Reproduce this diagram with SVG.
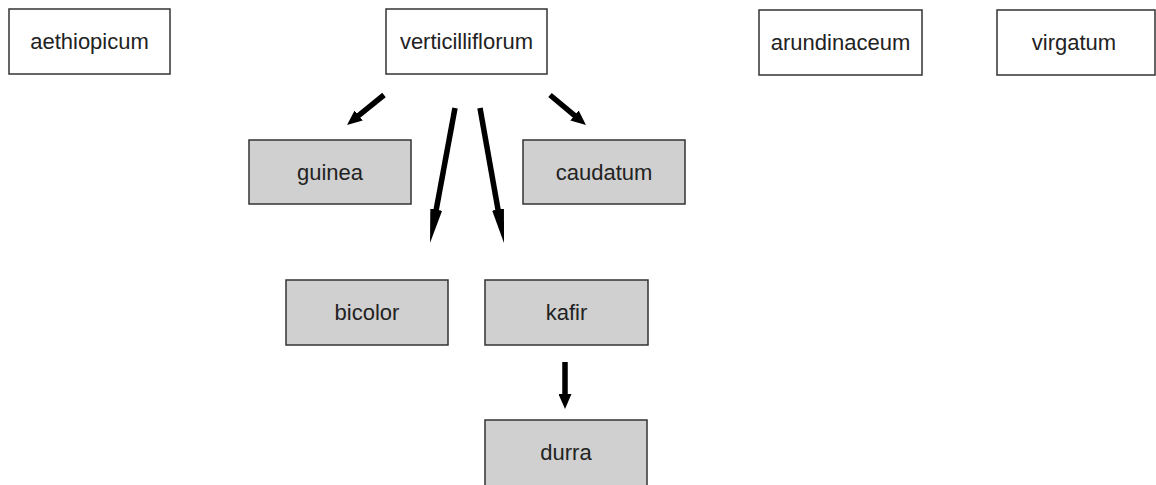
<svg xmlns="http://www.w3.org/2000/svg" width="1156" height="485" viewBox="0 0 1156 485">
<style>
.box{fill:#ffffff;stroke:#333333;stroke-width:1.5}
.gbox{fill:#d0d0d0;stroke:#333333;stroke-width:1.5}
.lbl{font-family:"Liberation Sans",Arial,sans-serif;font-size:22px;fill:#222222;text-anchor:middle}
.arr{stroke:#000000;stroke-width:5.5;fill:none}
</style>
<defs>
<marker id="hl" markerUnits="userSpaceOnUse" markerWidth="34" markerHeight="12" refX="10" refY="6" orient="auto"><path d="M0,0 L34,6 L0,12 z" fill="#000"/></marker>
<marker id="hs" markerUnits="userSpaceOnUse" markerWidth="15" markerHeight="13" refX="5" refY="6.5" orient="auto"><path d="M0,0 L15,6.5 L0,13 z" fill="#000"/></marker>
</defs>
<g id="aethiopicum"><rect class="box" x="9" y="9" width="161" height="65"/><text class="lbl" x="89.5" y="48.5">aethiopicum</text></g>
<g id="verticilliflorum"><rect class="box" x="386" y="9" width="161" height="65"/><text class="lbl" x="466.5" y="48.5">verticilliflorum</text></g>
<g id="arundinaceum"><rect class="box" x="759" y="10" width="163" height="65"/><text class="lbl" x="840.5" y="49.5">arundinaceum</text></g>
<g id="virgatum"><rect class="box" x="997" y="10" width="158" height="65"/><text class="lbl" x="1074" y="49.5">virgatum</text></g>
<g id="guinea"><rect class="gbox" x="249" y="140" width="162" height="64"/><text class="lbl" x="330" y="179.5">guinea</text></g>
<g id="caudatum"><rect class="gbox" x="523" y="140" width="162" height="64"/><text class="lbl" x="604" y="179.5">caudatum</text></g>
<g id="bicolor"><rect class="gbox" x="286" y="280" width="162" height="65"/><text class="lbl" x="367" y="320">bicolor</text></g>
<g id="kafir"><rect class="gbox" x="485" y="280" width="163" height="65"/><text class="lbl" x="566.5" y="320">kafir</text></g>
<g id="durra"><rect class="gbox" x="485" y="420" width="162" height="68"/><text class="lbl" x="566" y="460">durra</text></g>
<g id="connectors">
<line class="arr" x1="384" y1="95" x2="354.8" y2="118.7" marker-end="url(#hs)"/>
<line class="arr" x1="550" y1="95" x2="578.3" y2="118.6" marker-end="url(#hs)"/>
<line class="arr" x1="455" y1="108" x2="434.4" y2="219.4" marker-end="url(#hl)"/>
<line class="arr" x1="480" y1="108" x2="499.8" y2="219.4" marker-end="url(#hl)"/>
<line class="arr" x1="565" y1="362" x2="565" y2="399" marker-end="url(#hs)"/>
</g>
</svg>
